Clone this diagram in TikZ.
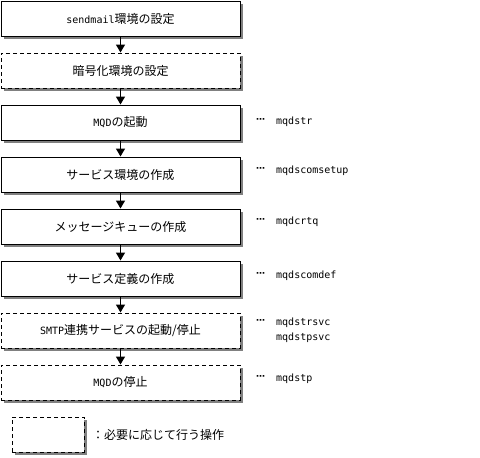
\documentclass[tikz,border=0pt]{standalone}
\usepackage{fontspec}
\setmainfont{Noto Sans CJK JP}
\newfontfamily\monofam{DejaVu Sans Mono}
\newfontfamily\dotfam{DejaVu Sans}
\usetikzlibrary{shadows,arrows.meta}
\newcommand\monot[1]{{\monofam\fontsize{10}{12}\selectfont #1}}
\begin{document}
\begin{tikzpicture}[x=1pt,y=-1pt,
  stepbox/.style={draw=black, line width=1pt, fill=white,
    minimum width=239pt, minimum height=35pt, inner sep=0pt,
    font=\fontsize{12}{14}\selectfont,
    drop shadow={shadow xshift=3pt, shadow yshift=-3pt, fill=gray, opacity=1}},
  optbox/.style={stepbox, dash pattern=on 4pt off 3pt},
  flow/.style={line width=1.5pt, -{Triangle[width=9pt,length=8pt]}},
  cmd/.style={anchor=west, inner sep=0pt, font=\monofam\fontsize{10}{12}\selectfont},
  dots/.style={anchor=west, inner sep=0pt, font=\dotfam\bfseries\fontsize{9}{12}\selectfont}
]
\useasboundingbox (0,0) rectangle (480,458);

\node[stepbox] (b1) at (120.5,18.5) {\monot{sendmail}環境の設定};
\node[optbox]  (b2) at (120.5,70.5) {暗号化環境の設定};
\node[stepbox] (b3) at (120.5,122.5) {\monot{MQD}の起動};
\node[stepbox] (b4) at (120.5,174.5) {サービス環境の作成};
\node[stepbox] (b5) at (120.5,226.5) {メッセージキューの作成};
\node[stepbox] (b6) at (120.5,278.5) {サービス定義の作成};
\node[optbox]  (b7) at (120.5,330.5) {\monot{SMTP}連携サービスの起動/停止};
\node[optbox]  (b8) at (120.5,382.5) {\monot{MQD}の停止};

\draw[flow] (b1.south) -- (b2.north);
\draw[flow] (b2.south) -- (b3.north);
\draw[flow] (b3.south) -- (b4.north);
\draw[flow] (b4.south) -- (b5.north);
\draw[flow] (b5.south) -- (b6.north);
\draw[flow] (b6.south) -- (b7.north);
\draw[flow] (b7.south) -- (b8.north);

\node[dots] (d3) at (256,121) {⋯};
\node[cmd]  (c3) at (276,122) {mqdstr};
\node[dots] (d4) at (256,170) {⋯};
\node[cmd]  (c4) at (276,171) {mqdscomsetup};
\node[dots] (d5) at (256,221) {⋯};
\node[cmd]  (c5) at (276,222) {mqdcrtq};
\node[dots] (d6) at (256,275) {⋯};
\node[cmd]  (c6) at (276,276) {mqdscomdef};
\node[dots] (d7) at (256,322) {⋯};
\node[cmd]  (c7) at (276,323) {mqdstrsvc};
\node[cmd]  (c7b) at (276,338) {mqdstpsvc};
\node[dots] (d8) at (256,378) {⋯};
\node[cmd]  (c8) at (276,379) {mqdstp};

\node[optbox, minimum width=72pt, minimum height=35pt] (leg) at (48,434.5) {};
\node[anchor=west, inner sep=0pt, font=\fontsize{12}{14}\selectfont] (legtext) at (92,435) {：必要に応じて行う操作};
\end{tikzpicture}
\end{document}
